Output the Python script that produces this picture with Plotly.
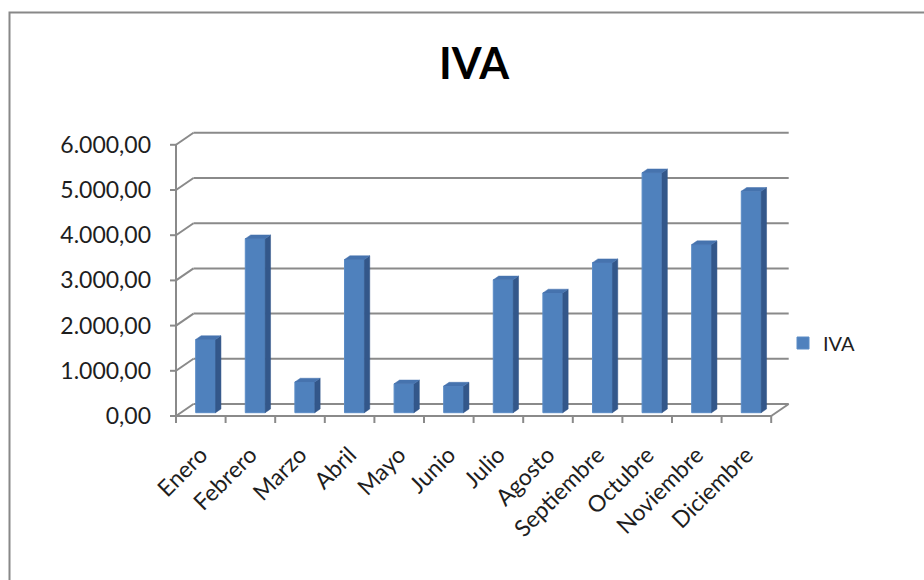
import plotly.graph_objects as go

# ---- data -------------------------------------------------------------
months = ["Enero", "Febrero", "Marzo", "Abril", "Mayo", "Junio",
          "Julio", "Agosto", "Septiembre", "Octubre", "Noviembre", "Diciembre"]
iva = [1620, 3850, 680, 3390, 640, 590, 2940, 2650, 3320, 5310, 3720, 4900]
y_ticks = [0, 1000, 2000, 3000, 4000, 5000, 6000]
series_name = "IVA"

# ---- geometry of the oblique (pseudo 3-D) projection ------------------
W, H = 924, 580
CAT_PX = 49.6          # pixels per category on the front plane
VAL_PX = 0.0452        # pixels per unit of value
FRONT_X = 176          # pixel x of the front-left corner (category -0.5)
FRONT_Y = 416          # pixel y of value 0 on the front plane
PLOT_L, PLOT_R, PLOT_T, PLOT_B = 164, 794, 126, 430

DEPTH_X_PX, DEPTH_Y_PX = 17.5, 12.0           # full depth offset of the back wall
ddx = DEPTH_X_PX / CAT_PX                     # depth offset in data units
ddy = DEPTH_Y_PX / VAL_PX

BAR_W = 0.4            # bar width (gap width 150 %)
D_FRONT = 0.275        # depth of the bar's front face
D_SIDE = 0.31          # depth of the bar itself

x_lo = -0.5 - (FRONT_X - PLOT_L) / CAT_PX
x_hi = -0.5 + (PLOT_R - FRONT_X) / CAT_PX
y_lo = -(PLOT_B - FRONT_Y) / VAL_PX
y_hi = (FRONT_Y - PLOT_T) / VAL_PX

n = len(months)
x_first, x_last = -0.5, n - 0.5
y_max = y_ticks[-1]

GRID = "#8a8a8a"
FRONT_C = "#4F81BD"
TOP_C = "#4673AE"
SIDE_C = "#33578A"
FONT = "Lato"
TEXT_C = "#1e1e1e"


def line(x0, y0, x1, y1):
    return dict(type="line", xref="x", yref="y", x0=x0, y0=y0, x1=x1, y1=y1,
                line=dict(color=GRID, width=2), layer="below")


shapes = []
# back wall and side wall gridlines
for t in y_ticks:
    shapes.append(line(x_first, t, x_first + ddx, t + ddy))
    shapes.append(line(x_first + ddx, t + ddy, x_last + ddx, t + ddy))
# floor: front edge and right edge
shapes.append(line(x_first, 0, x_last, 0))
shapes.append(line(x_last, 0, x_last + ddx, ddy))
# front value axis with its tick marks
tick_x = 6 / CAT_PX
tick_y = 7 / VAL_PX
shapes.append(line(x_first, -tick_y, x_first, y_max))
for t in y_ticks:
    shapes.append(line(x_first - tick_x, t, x_first, t))
# category tick marks between months
for k in range(n + 1):
    shapes.append(line(k - 0.5, 0, k - 0.5, -tick_y))


# chart frame (left and top edges, continuing past the page)
def px_to_paper_x(px):
    return (px - PLOT_L) / (PLOT_R - PLOT_L)


def px_to_paper_y(py):
    return (PLOT_B - py) / (PLOT_B - PLOT_T)


shapes.append(dict(type="rect", xref="paper", yref="paper",
                   x0=px_to_paper_x(9.5), x1=px_to_paper_x(940),
                   y0=px_to_paper_y(600), y1=px_to_paper_y(12.5),
                   line=dict(color="#888888", width=2), layer="below"))

# ---- bar faces --------------------------------------------------------
x_front = [i + D_FRONT * ddx for i in range(n)]
base = D_FRONT * ddy
sx, sy = D_SIDE * ddx, D_SIDE * ddy

top_x, top_y, side_x, side_y = [], [], [], []
for xc, v in zip(x_front, iva):
    xl, xr = xc - BAR_W / 2, xc + BAR_W / 2
    yt = base + v
    top_x += [xl, xr, xr + sx, xl + sx, xl, None]
    top_y += [yt, yt, yt + sy, yt + sy, yt, None]
    side_x += [xr, xr + sx, xr + sx, xr, xr, None]
    side_y += [base, base + sy, yt + sy, yt, base, None]

fig = go.Figure()
fig.add_trace(go.Bar(x=x_front, y=iva, base=base, width=BAR_W, name=series_name,
                     marker=dict(color=FRONT_C, line=dict(color="#5B8CC6", width=1)),
                     hoverinfo="skip"))
fig.add_trace(go.Scatter(x=side_x, y=side_y, fill="toself", fillcolor=SIDE_C,
                         mode="lines", line=dict(color=SIDE_C, width=0.5),
                         showlegend=False, hoverinfo="skip"))
fig.add_trace(go.Scatter(x=top_x, y=top_y, fill="toself", fillcolor=TOP_C,
                         mode="lines", line=dict(color=TOP_C, width=0.5),
                         showlegend=False, hoverinfo="skip"))

fig.update_layout(
    width=W, height=H,
    margin=dict(l=PLOT_L, r=W - PLOT_R, t=PLOT_T, b=H - PLOT_B, autoexpand=False),
    paper_bgcolor="white", plot_bgcolor="white",
    separators=",.",
    shapes=shapes,
    title=dict(text="<b>IVA</b>", x=474 / W, xref="container", xanchor="center",
               y=1 - 64 / H, yref="container", yanchor="middle",
               font=dict(family=FONT, size=43, color="#000000")),
    legend=dict(x=783 / W, y=1 - 343 / H, xref="container", yref="container",
                xanchor="left", yanchor="middle",
                font=dict(family=FONT, size=20, color=TEXT_C),
                bgcolor="rgba(0,0,0,0)"),
    showlegend=True,
    xaxis=dict(range=[x_lo, x_hi], tickmode="array", tickvals=list(range(n)),
               ticktext=months, tickangle=-45, showgrid=False, zeroline=False,
               showline=False, ticks="", automargin=False, ticklabelstandoff=6,
               tickfont=dict(family=FONT, size=23, color=TEXT_C)),
    yaxis=dict(range=[y_lo, y_hi], tickmode="array", tickvals=y_ticks,
               tickformat=",.2f", showgrid=False, zeroline=False, showline=False,
               ticks="", automargin=False, ticklabelstandoff=12,
               tickfont=dict(family=FONT, size=23, color=TEXT_C)),
)

fig.write_html("out.html")
